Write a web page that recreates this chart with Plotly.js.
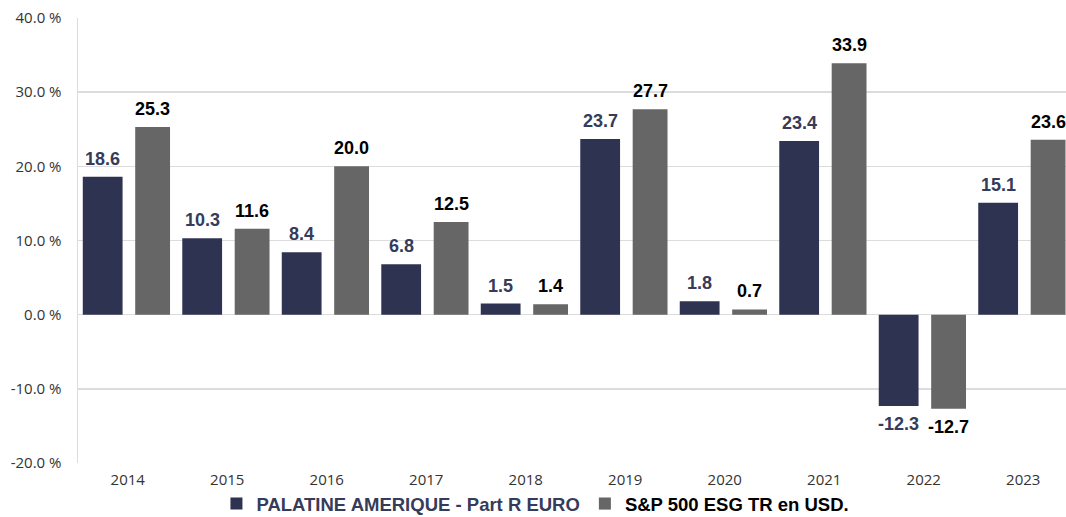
<!DOCTYPE html>
<html>
<head>
<meta charset="utf-8">
<script src="https://cdn.plot.ly/plotly-3.0.1.min.js"></script>
<style>html,body{margin:0;padding:0;background:#fff;}#chart{width:1066px;height:517px;}</style>
</head>
<body>
<div id="chart"></div>
<script>
const years = ['2014','2015','2016','2017','2018','2019','2020','2021','2022','2023'];
const palatine = [18.6, 10.3, 8.4, 6.8, 1.5, 23.7, 1.8, 23.4, -12.3, 15.1];
const sp500 = [25.3, 11.6, 20.0, 12.5, 1.4, 27.7, 0.7, 33.9, -12.7, 23.6];
const seriesNames = ['PALATINE AMERIQUE - Part R EURO', 'S&P 500 ESG TR en USD.'];
const yTicks = [-20, -10, 0, 10, 20, 30, 40];

const navy = '#2f3352';
const grey = '#666666';
const navyText = '#363b5a';

const darkOff = -0.452, darkW = 0.40;
const greyOff = 0.075, greyW = 0.35;

const traces = [
  {type:'bar', x: years, y: palatine, name: '<span style="color:' + navyText + '">' + seriesNames[0] + '</span>',
   marker:{color: navy}, offset: darkOff, width: darkW, hoverinfo:'skip'},
  {type:'bar', x: years, y: sp500, name: seriesNames[1],
   marker:{color: grey}, offset: greyOff, width: greyW, hoverinfo:'skip'}
];

function labels(vals, off, w, color) {
  return vals.map((v, i) => ({
    x: i + off + w/2, y: v, xref:'x', yref:'y',
    text: '<b>' + v.toFixed(1) + '</b>', showarrow:false,
    yanchor: v >= 0 ? 'bottom' : 'top', yshift: v >= 0 ? 6 : -6,
    font:{family:'Liberation Sans, Arial, sans-serif', size:18, color: color}
  }));
}

const layout = {
  width:1066, height:517,
  margin:{l:77.5, r:0, t:18, b:54, autoexpand:false},
  paper_bgcolor:'#ffffff', plot_bgcolor:'#ffffff',
  barmode:'group',
  showlegend:true,
  legend:{orientation:'h', x:0.463, xanchor:'center', yref:'container', y:0.025, yanchor:'middle',
    font:{family:'Liberation Sans, Arial, sans-serif', size:18.5, color:'#000000', weight:'bold'},
    itemwidth:30, traceorder:'normal'},
  xaxis:{type:'category', range:[-0.5, 9.43], showgrid:false, zeroline:false,
    showline:false, ticks:'', ticklabelstandoff:6,
    tickfont:{family:'Open Sans, sans-serif', size:15, color:'#333333'}},
  yaxis:{range:[-20, 40], tickvals: yTicks, ticktext: yTicks.map(t => t.toFixed(1) + ' %'),
    showgrid:true, gridcolor:'#dcdcdc', gridwidth:1.5, zeroline:true, zerolinecolor:'#dcdcdc', zerolinewidth:1.5,
    showline:true, linecolor:'#dcdcdc', linewidth:1.5, ticks:'', ticklabelstandoff:12,
    tickfont:{family:'Open Sans, sans-serif', size:15, color:'#333333'}},
  annotations: labels(palatine, darkOff, darkW, navyText).concat(labels(sp500, greyOff, greyW, '#000000'))
};

Plotly.newPlot('chart', traces, layout, {displayModeBar:false, staticPlot:true});
</script>
</body>
</html>
